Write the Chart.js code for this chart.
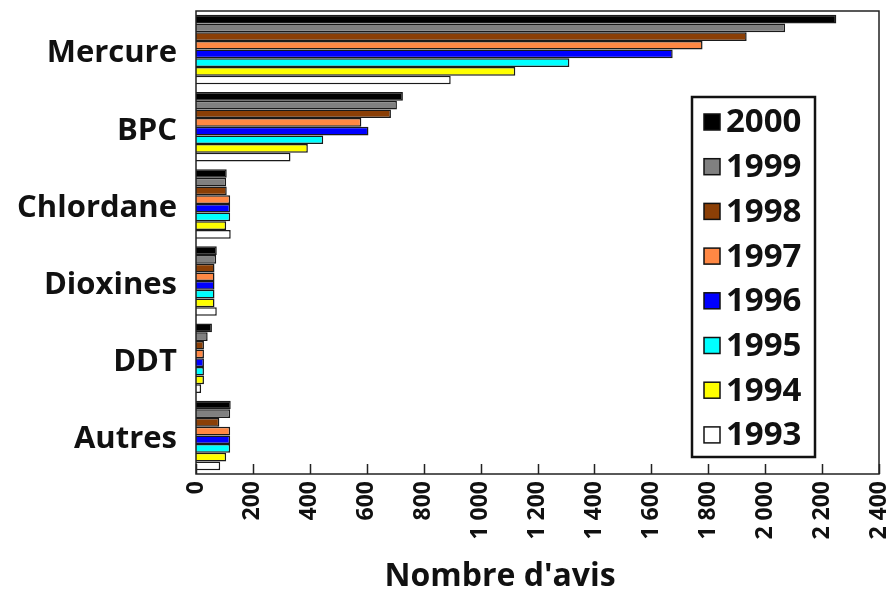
<!DOCTYPE html>
<html>
<head>
<meta charset="utf-8">
<script src="https://cdn.jsdelivr.net/npm/chart.js@4.4.1/dist/chart.umd.min.js"></script>
<style>
html,body{margin:0;padding:0;background:#fff;}
#wrap{position:relative;width:891px;height:596px;}
</style>
</head>
<body>
<div id="wrap"><canvas id="c" width="891" height="596"></canvas></div>
<script>
const categories = ["Mercure", "BPC", "Chlordane", "Dioxines", "DDT", "Autres"];
const years = ["2000", "1999", "1998", "1997", "1996", "1995", "1994", "1993"];
const colors = ["#000000", "#808080", "#8b3f06", "#ff8844", "#0000ff", "#00ffff", "#ffff00", "#ffffff"];
const v2000 = [2250, 727, 108, 73, 56, 122];
const v1999 = [2070, 706, 106, 71, 41, 120];
const v1998 = [1935, 685, 108, 65, 28, 82];
const v1997 = [1780, 581, 120, 65, 28, 120];
const v1996 = [1675, 606, 120, 65, 28, 120];
const v1995 = [1312, 447, 120, 65, 28, 120];
const v1994 = [1122, 393, 106, 65, 28, 106];
const v1993 = [895, 332, 122, 73, 18, 85];
const seriesValues = [v2000, v1999, v1998, v1997, v1996, v1995, v1994, v1993];
const xTicks = [0, 200, 400, 600, 800, 1000, 1200, 1400, 1600, 1800, 2000, 2200, 2400];
const xTitle = "Nombre d'avis";

const FONT = "'Open Sans', 'DejaVu Sans', sans-serif";

function fmt(v) {
  if (v >= 1000) return Math.floor(v / 1000) + " " + String(v % 1000).padStart(3, "0");
  return String(v);
}

const frameAndTicks = {
  id: "frameAndTicks",
  afterDatasetsDraw(chart) {
    const ctx = chart.ctx, a = chart.chartArea, xs = chart.scales.x;
    ctx.save();
    ctx.strokeStyle = "#222";
    ctx.lineWidth = 1.5;
    ctx.strokeRect(a.left, a.top, a.right - a.left, a.bottom - a.top);
    ctx.beginPath();
    xTicks.forEach(t => {
      const px = Math.round(xs.getPixelForValue(t)) + 0.5;
      ctx.moveTo(px, a.bottom);
      ctx.lineTo(px, a.bottom - 10);
    });
    ctx.stroke();
    // axis title
    ctx.fillStyle = "#111";
    ctx.font = "bold 32px " + FONT;
    ctx.textAlign = "center";
    ctx.textBaseline = "middle";
    ctx.fillText(xTitle, 500, 577);
    ctx.restore();
  }
};

const boxLegend = {
  id: "boxLegend",
  afterDraw(chart) {
    const ctx = chart.ctx;
    const bx = 692, by = 97, bw = 123, bh = 360;
    ctx.save();
    ctx.fillStyle = "#fff";
    ctx.fillRect(bx, by, bw, bh);
    ctx.strokeStyle = "#111";
    ctx.lineWidth = 2.5;
    ctx.strokeRect(bx, by, bw, bh);
    ctx.font = "bold 33px " + FONT;
    ctx.textBaseline = "middle";
    ctx.textAlign = "left";
    chart.data.datasets.forEach((ds, i) => {
      const cy = by + 25 + i * 44.7;
      ctx.fillStyle = ds.backgroundColor;
      ctx.fillRect(704, cy - 8, 16, 16);
      ctx.lineWidth = 1.5;
      ctx.strokeStyle = "#111";
      ctx.strokeRect(704, cy - 8, 16, 16);
      ctx.fillStyle = "#111";
      ctx.fillText(ds.label, 726, cy + 1);
    });
    ctx.restore();
  }
};

new Chart(document.getElementById("c"), {
  type: "bar",
  data: {
    labels: categories,
    datasets: years.map((y, i) => ({
      label: y,
      data: seriesValues[i],
      backgroundColor: colors[i],
      borderColor: "#1a1a1a",
      borderWidth: 1.5,
      categoryPercentage: 0.9,
      barPercentage: 1.0
    }))
  },
  options: {
    indexAxis: "y",
    responsive: false,
    animation: false,
    devicePixelRatio: 1,
    layout: { padding: { top: 11, right: 12, left: 0, bottom: 0 } },
    plugins: { legend: { display: false }, tooltip: { enabled: false } },
    scales: {
      x: {
        min: 0, max: 2400,
        afterBuildTicks(scale) { scale.ticks = xTicks.map(v => ({ value: v })); },
        afterFit(scale) {
          scale.height = 122;
          scale.paddingLeft = 0; scale.paddingRight = 0;
        },
        grid: { display: false, drawTicks: false },
        border: { display: false },
        ticks: {
          minRotation: 90, maxRotation: 90, padding: 7, autoSkip: false,
          color: "#111",
          font: { family: FONT, weight: "bold", size: 23 },
          callback: v => fmt(v)
        },
        title: { display: false }
      },
      y: {
        afterFit(scale) {
          scale.width = 196;
          scale.paddingTop = 0; scale.paddingBottom = 0;
        },
        grid: { display: false, drawTicks: false },
        border: { display: false },
        ticks: {
          padding: 19, labelOffset: 4, color: "#111",
          font: { family: FONT, weight: "bold", size: 31 }
        }
      }
    }
  },
  plugins: [frameAndTicks, boxLegend]
});
</script>
</body>
</html>
